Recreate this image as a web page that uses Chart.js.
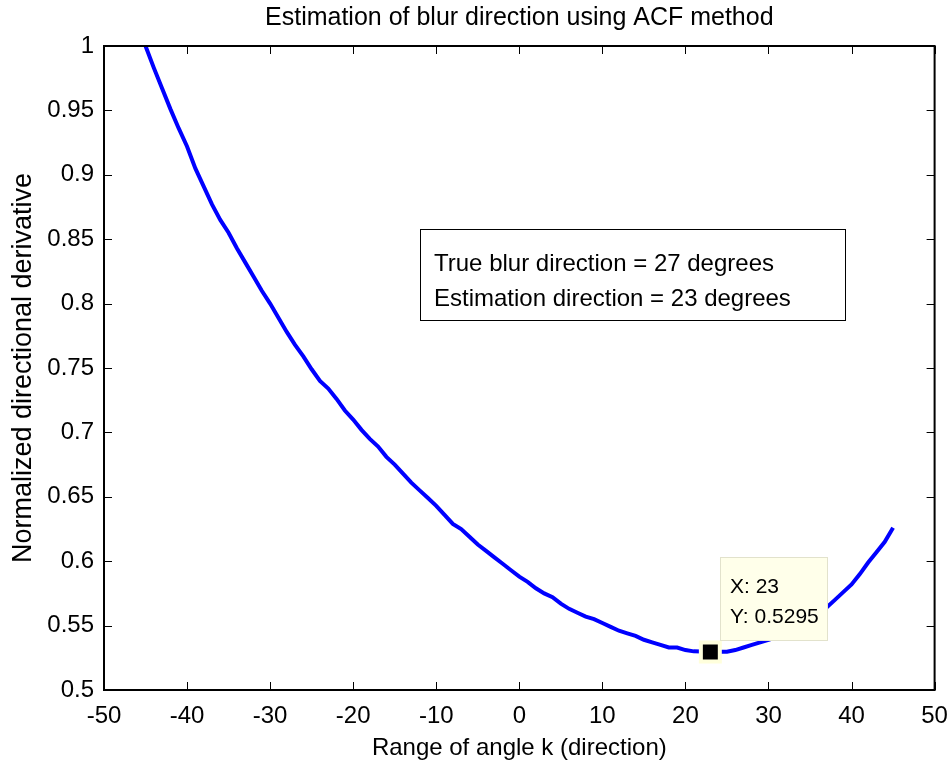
<!DOCTYPE html>
<html>
<head>
<meta charset="utf-8">
<title>Estimation of blur direction using ACF method</title>
<script src="https://cdn.jsdelivr.net/npm/chart.js@4.4.0/dist/chart.umd.min.js"></script>
<style>
    html, body { margin: 0; padding: 0; background: #fff; overflow: hidden; }
    #wrap { width: 952px; height: 770px; position: relative; }
</style>
</head>
<body>
<div id="wrap"><canvas id="acfChart"></canvas></div>
<script>
// Data
const angles = [-45, -44, -43, -42, -41, -40, -39, -38, -37, -36, -35, -34, -33, -32, -31,
    -30, -29, -28, -27, -26, -25, -24, -23, -22, -21, -20, -19, -18, -17, -16,
    -15, -14, -13, -12, -11, -10, -9, -8, -7, -6, -5, -4, -3, -2, -1,
    0, 1, 2, 3, 4, 5, 6, 7, 8, 9, 10, 11, 12, 13, 14,
    15, 16, 17, 18, 19, 20, 21, 22, 23, 24, 25, 26, 27, 28, 29,
    30, 31, 32, 33, 34, 35, 36, 37, 38, 39, 40, 41, 42, 43, 44, 45];

const derivative = [1.000, 0.983, 0.967, 0.951, 0.936, 0.922, 0.905, 0.891, 0.877, 0.865, 0.855, 0.843, 0.832, 0.821, 0.810,
    0.800, 0.789, 0.778, 0.768, 0.759, 0.749, 0.740, 0.734, 0.726, 0.717, 0.710, 0.702, 0.695, 0.689, 0.681,
    0.675, 0.668, 0.661, 0.655, 0.649, 0.643, 0.636, 0.629, 0.625, 0.619, 0.613, 0.608, 0.603, 0.598, 0.593,
    0.588, 0.584, 0.579, 0.575, 0.572, 0.567, 0.563, 0.560, 0.557, 0.555, 0.552, 0.549, 0.546, 0.544, 0.542,
    0.539, 0.537, 0.535, 0.533, 0.533, 0.531, 0.530, 0.5298, 0.5295, 0.5297, 0.5297, 0.531, 0.533, 0.535, 0.537,
    0.539, 0.541, 0.544, 0.547, 0.550, 0.554, 0.559, 0.564, 0.570, 0.576, 0.582, 0.590, 0.599, 0.607, 0.615, 0.626];

const xTicks = [-50, -40, -30, -20, -10, 0, 10, 20, 30, 40, 50];
const xTickLabels = ['-50', '-40', '-30', '-20', '-10', '0', '10', '20', '30', '40', '50'];
const yTicks = [0.5, 0.55, 0.6, 0.65, 0.7, 0.75, 0.8, 0.85, 0.9, 0.95, 1];
const yTickLabels = ['0.5', '0.55', '0.6', '0.65', '0.7', '0.75', '0.8', '0.85', '0.9', '0.95', '1'];

const chartTitle = 'Estimation of blur direction using ACF method';
const xLabel = 'Range of angle k (direction)';
const yLabel = 'Normalized directional derivative';
const infoLines = ['True blur direction = 27 degrees', 'Estimation direction = 23 degrees'];
const tipPoint = { x: 23, y: 0.5295 };
const tipLines = ['X: 23', 'Y: 0.5295'];

const FONT = "'Liberation Sans', Arial, Helvetica, sans-serif";

//#region plugins

// MATLAB style box with inward ticks on all four sides
const axesBox = {
    id: 'axesBox',
    afterDatasetsDraw(chart) {
        const { ctx, chartArea: a, scales } = chart;
        ctx.save();
        ctx.strokeStyle = '#000';
        ctx.lineWidth = 1;
        ctx.beginPath();
        scales.x.ticks.forEach(t => {
            const px = Math.round(scales.x.getPixelForValue(t.value)) + 0.5;
            ctx.moveTo(px, a.bottom); ctx.lineTo(px, a.bottom - 8);
            ctx.moveTo(px, a.top); ctx.lineTo(px, a.top + 8);
        });
        scales.y.ticks.forEach(t => {
            const py = Math.round(scales.y.getPixelForValue(t.value)) + 0.5;
            ctx.moveTo(a.left, py); ctx.lineTo(a.left + 8, py);
            ctx.moveTo(a.right, py); ctx.lineTo(a.right - 8, py);
        });
        ctx.stroke();
        ctx.lineWidth = 2;
        ctx.strokeRect(a.left, a.top, a.right - a.left, a.bottom - a.top);

        // text box with the two direction lines
        const bx = a.left + 316, by = a.top + 183;
        ctx.lineWidth = 1;
        ctx.fillStyle = '#fff';
        ctx.fillRect(bx, by, 425, 91);
        ctx.strokeRect(bx + 0.5, by + 0.5, 425, 91);
        ctx.fillStyle = '#000';
        ctx.font = '24px ' + FONT;
        ctx.textBaseline = 'alphabetic';
        ctx.textAlign = 'left';
        ctx.fillText(infoLines[0], bx + 14, by + 42);
        ctx.fillText(infoLines[1], bx + 14, by + 77);
        ctx.restore();
    }
};

// data tip next to the minimum
const dataTip = {
    id: 'dataTip',
    afterDraw(chart) {
        const { ctx, scales } = chart;
        const px = scales.x.getPixelForValue(tipPoint.x);
        const py = scales.y.getPixelForValue(tipPoint.y);
        const left = Math.round(px + 10), top = Math.round(py - 95);
        ctx.save();
        ctx.fillStyle = '#ffffea';
        ctx.fillRect(left, top, 107, 83);
        ctx.strokeStyle = '#e2e2cc';
        ctx.lineWidth = 1;
        ctx.strokeRect(left + 0.5, top + 0.5, 107, 83);
        ctx.fillStyle = '#000';
        ctx.font = '21px ' + FONT;
        ctx.textBaseline = 'alphabetic';
        ctx.fillText(tipLines[0], left + 10, top + 36);
        ctx.fillText(tipLines[1], left + 10, top + 66);
        ctx.restore();
    }
};

//#endregion

const data = {
    datasets: [{
        label: 'tip',
        data: [tipPoint],
        order: 0,
        showLine: false,
        pointStyle: 'rect',
        pointRadius: 13.4,
        backgroundColor: '#000',
        borderColor: '#ffffdc',
        borderWidth: 4
    }, {
        label: 'ACF',
        data: angles.map((a, i) => ({ x: a, y: derivative[i] })),
        order: 1,
        borderColor: '#0000ff',
        borderWidth: 4,
        pointRadius: 0,
        tension: 0,
        fill: false
    }]
};

const config = {
    type: 'line',
    data,
    plugins: [axesBox, dataTip],
    options: {
        responsive: true,
        maintainAspectRatio: false,
        animation: false,
        events: [],
        layout: { padding: { left: 0, right: 17, top: 0, bottom: 0 } },
        plugins: {
            legend: { display: false },
            tooltip: { enabled: false },
            title: {
                display: true,
                text: chartTitle,
                fullSize: false,
                color: '#000',
                font: { family: FONT, size: 25, weight: 'normal' },
                padding: { top: 3, bottom: 13 }
            }
        },
        scales: {
            x: {
                type: 'linear',
                min: -50,
                max: 50,
                afterBuildTicks: s => { s.ticks = xTicks.map(v => ({ value: v })); },
                afterFit: s => { s.height = 80; s.paddingLeft = 0; s.paddingRight = 0; },
                grid: { display: false, drawTicks: false },
                border: { display: false },
                ticks: {
                    color: '#000',
                    font: { family: FONT, size: 24 },
                    padding: 12,
                    maxRotation: 0,
                    autoSkip: false,
                    callback: (v, i) => xTickLabels[i]
                },
                title: {
                    display: true,
                    text: xLabel,
                    color: '#000',
                    font: { family: FONT, size: 24 },
                    padding: { top: 0, bottom: 7 }
                }
            },
            y: {
                type: 'linear',
                min: 0.5,
                max: 1,
                afterBuildTicks: s => { s.ticks = yTicks.map(v => ({ value: v })); },
                afterFit: s => { s.width = 104; s.paddingTop = 0; s.paddingBottom = 0; },
                grid: { display: false, drawTicks: false },
                border: { display: false },
                ticks: {
                    color: '#000',
                    font: { family: FONT, size: 24 },
                    padding: 10,
                    autoSkip: false,
                    callback: (v, i) => yTickLabels[i]
                },
                title: {
                    display: true,
                    text: yLabel,
                    color: '#000',
                    font: { family: FONT, size: 27 },
                    padding: { top: 7, bottom: 0 }
                }
            }
        }
    }
};

const myChart = new Chart(document.getElementById('acfChart'), config);
</script>
</body>
</html>
